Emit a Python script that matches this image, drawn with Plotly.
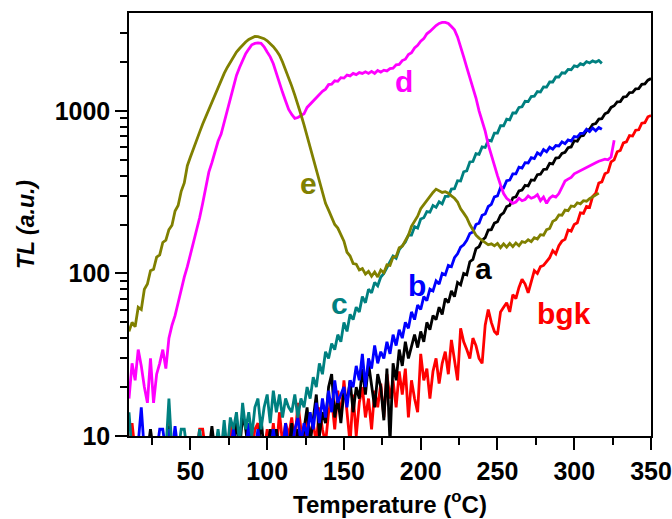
import math
import plotly.graph_objects as go

# ---------------- data (TL intensity, sampled every 2 degC starting at 10 degC) ----------------
T_START = 10
T_STEP = 2

tl_a = [
    8, 8, 8, 8, 8, 8, 8, 11, 8, 8,
    8, 8, 8, 11.5, 8, 8, 8, 8, 8, 8,
    8, 8, 8, 8, 8, 8, 8, 11.5, 8, 8,
    8, 11, 8, 8, 8, 13, 8, 13.5, 11, 8,
    8, 8, 8, 13, 8, 8, 11, 8, 11, 8,
    8, 8, 8, 12, 8, 11, 8, 11, 15, 9,
    13, 18, 10, 14, 12, 20, 24, 13, 17, 12,
    19, 16, 22, 14, 20, 17, 26, 18, 28, 20,
    15, 24, 20, 12.5, 26, 9, 28, 22, 34, 27,
    38, 30, 36, 42, 35, 44, 38, 50, 45, 55,
    52, 62, 56, 70, 66, 78, 72, 88, 85, 100,
    98, 118, 122, 142, 146, 160, 166, 185, 186, 204,
    208, 228, 236, 258, 262, 292, 296, 322, 326, 348,
    345, 376, 374, 405, 408, 436, 438, 476, 472, 512,
    515, 548, 556, 594, 600, 655, 650, 700, 705, 755,
    770, 825, 835, 890, 895, 960, 980, 1050, 1075, 1135,
    1140, 1215, 1225, 1295, 1300, 1365, 1370, 1455, 1465, 1545,
    1580,
]

tl_b = [
    8, 8, 8, 9, 15, 8, 8, 8, 8, 8,
    11, 11, 8, 11, 8, 11.5, 8, 8, 8, 8,
    8, 8, 8, 8, 8, 8, 8, 8, 8, 8,
    8, 8, 8, 8, 11, 8, 8, 8, 8, 12,
    8, 8, 11, 8, 8, 8, 8, 11, 8, 8,
    8, 12, 8, 8, 11, 13, 9, 12, 10, 14,
    11, 16, 12, 17, 13, 19, 14, 22, 16, 18,
    20, 15, 22, 20, 27, 22, 32, 20, 30, 26,
    36, 28, 33, 30, 38, 32, 42, 36, 45, 40,
    50, 46, 58, 52, 64, 60, 72, 68, 80, 78,
    90, 86, 100, 98, 112, 110, 125, 132, 145, 150,
    160, 176, 180, 200, 204, 228, 232, 258, 266, 296,
    300, 338, 336, 372, 375, 410, 410, 450, 444, 480,
    478, 515, 508, 552, 536, 578, 560, 598, 582, 612,
    608, 645, 628, 662, 652, 695, 690, 728, 728, 770,
    745, 785, 755, 790, 770,
]

tl_c = [
    14, 8, 8, 8, 8, 8, 8, 8, 8, 8,
    8, 8, 8, 17, 8, 8, 8, 11, 11, 8,
    8, 8, 8, 11, 8, 8, 8, 8, 8, 11,
    8, 12.5, 8, 13, 11, 14, 9, 16, 11, 14,
    10, 15, 17, 11, 15, 18, 12, 19, 14, 18,
    13, 17, 15, 14, 18, 13, 17, 15, 20, 17,
    23, 20, 28, 24, 33, 30, 37, 34, 42, 38,
    50, 44, 56, 52, 62, 58, 72, 66, 80, 76,
    88, 84, 95, 100, 110, 118, 128, 124, 140, 148,
    156, 172, 172, 194, 190, 216, 220, 240, 238, 262,
    255, 276, 268, 298, 298, 330, 332, 372, 370, 422,
    428, 485, 488, 545, 540, 600, 595, 660, 652, 730,
    730, 810, 810, 890, 880, 970, 970, 1050, 1060, 1145,
    1140, 1225, 1230, 1315, 1305, 1405, 1400, 1505, 1505, 1615,
    1615, 1715, 1705, 1800, 1790, 1890, 1870, 1950, 1920, 2010,
    1970, 2030, 1990, 2040, 1960,
]

tl_d = [
    17, 28, 22, 34, 27, 20, 16, 30, 16, 24,
    28, 34, 26, 40, 48, 55, 66, 80, 95, 110,
    130, 160, 185, 220, 270, 340, 420, 480, 560, 650,
    720, 850, 1000, 1150, 1400, 1650, 1850, 2050, 2250, 2400,
    2550, 2600, 2620, 2600, 2480, 2300, 2150, 1950, 1700, 1450,
    1300, 1150, 1020, 950, 900, 910, 930, 960, 1050, 1100,
    1140, 1210, 1250, 1320, 1360, 1450, 1460, 1530, 1520, 1600,
    1590, 1660, 1640, 1700, 1670, 1720, 1700, 1740, 1700, 1750,
    1700, 1770, 1730, 1780, 1760, 1820, 1830, 1920, 1930, 2040,
    2080, 2220, 2280, 2440, 2530, 2680, 2780, 2980, 3080, 3230,
    3350, 3450, 3500, 3500, 3450, 3300, 3150, 2850, 2500, 2150,
    1850, 1600, 1400, 1200, 1000, 880, 750, 620, 530, 450,
    400, 350, 310, 290, 280, 270, 275, 290, 280, 285,
    300, 290, 295, 305, 280, 295, 270, 290, 300, 295,
    310, 340, 370, 380, 390, 410, 420, 430, 440, 450,
    460, 470, 480, 490, 500, 505, 500, 520, 660,
]

tl_e = [
    44, 50, 47, 62, 60, 80, 86, 104, 106, 126,
    130, 155, 160, 186, 198, 242, 262, 320, 360, 460,
    520, 580, 650, 740, 830, 920, 1020, 1150, 1280, 1420,
    1560, 1700, 1850, 2000, 2150, 2300, 2420, 2550, 2650, 2750,
    2820, 2870, 2860, 2830, 2780, 2700, 2600, 2480, 2350, 2200,
    2000, 1800, 1600, 1420, 1250, 1100, 950, 820, 700, 590,
    490, 420, 360, 310, 270, 245, 220, 200, 190, 175,
    158, 135, 128, 115, 114, 105, 107, 99, 103, 96,
    102, 95, 105, 101, 113, 112, 126, 127, 144, 147,
    160, 172, 195, 210, 225, 250, 265, 285, 300, 315,
    330, 322, 315, 318, 312, 300, 290, 275, 250, 235,
    220, 200, 185, 172, 165, 160, 155, 150, 152, 148,
    153, 144, 152, 145, 153, 146, 154, 148, 157, 155,
    161, 157, 166, 163, 173, 172, 186, 189, 209, 214,
    229, 228, 245, 243, 260, 258, 272, 268, 280, 278,
    288, 295, 305, 312,
]

tl_bgk = [
    8, 12, 8, 8, 8, 8, 8, 8, 8, 8,
    8, 8, 8, 12.5, 8, 8, 8, 8, 8, 8,
    8, 8, 8, 11, 11, 8, 8, 8, 8, 8,
    8, 8, 8, 12, 8, 8, 11, 8, 8, 8,
    8, 11, 12, 8, 8, 11, 8, 12, 8, 14,
    9, 12, 10, 13, 9, 16, 11, 9, 14, 10,
    12, 9, 15, 11, 9, 14, 17, 11, 19, 13,
    22, 14, 9, 18, 10, 16, 20, 13, 17, 11,
    19, 15, 21, 13, 24, 17, 22, 15, 25, 18,
    26, 13, 22, 17, 14, 32, 22, 26, 17, 25,
    30, 21, 28, 33, 24, 39, 30, 22, 46, 38,
    34, 30, 40, 36, 30, 28, 48, 60, 50, 44,
    42, 58, 62, 66, 58, 74, 70, 82, 92, 86,
    76, 88, 104, 100, 110, 112, 118, 125, 138, 132,
    148, 158, 162, 185, 182, 200, 205, 236, 234, 258,
    255, 298, 312, 360, 366, 410, 420, 485, 500, 560,
    570, 635, 645, 705, 700, 760, 765, 840, 845, 920,
    935,
]

series_names = ["bgk", "a", "b", "c", "d", "e"]
series_values = [tl_bgk, tl_a, tl_b, tl_c, tl_d, tl_e]
series_colors = ["#FF0000", "#000000", "#0000FF", "#008080", "#FF00FF", "#808000"]

# curve labels: (text, temperature, TL)
label_text = ["a", "b", "c", "d", "e", "bgk"]
label_temp = [240.8, 197.5, 146.9, 188.8, 126.8, 293.2]
label_tl = [107.4, 84.7, 65.6, 1507, 357, 56.8]
label_color = ["#000000", "#0000FF", "#008080", "#FF00FF", "#808000", "#FF0000"]

x_ticks = [50, 100, 150, 200, 250, 300, 350]
x_minor = [25, 75, 125, 175, 225, 275, 325]
y_ticks = [10, 100, 1000]
y_minor = [20, 30, 40, 50, 60, 70, 80, 90, 200, 300, 400, 500, 600, 700, 800, 900, 2000, 3000]

FONT = "Liberation Sans, Arial, Helvetica, sans-serif"

fig = go.Figure()
for name, ys, col in zip(series_names, series_values, series_colors):
    xs = list(range(T_START, T_START + T_STEP * len(ys), T_STEP))
    fig.add_trace(go.Scatter(x=xs, y=ys, mode="lines", name=name,
                             line=dict(color=col, width=2.8), showlegend=False))

for t, xv, yv, c in zip(label_text, label_temp, label_tl, label_color):
    fig.add_annotation(x=xv, y=math.log10(yv), xref="x", yref="y", text=t, showarrow=False,
                       font=dict(family=FONT, size=30, color=c, weight="bold"),
                       xanchor="center", yanchor="middle")

tickfont = dict(family=FONT, size=25, color="black", weight="bold")

fig.update_layout(
    width=672, height=519,
    margin=dict(l=129, r=21, t=13, b=83, autoexpand=False),
    paper_bgcolor="white", plot_bgcolor="white",
    showlegend=False,
)
fig.update_xaxes(
    automargin=False,
    range=[10, 350], tickmode="array", tickvals=x_ticks,
    ticks="outside", ticklen=12, tickwidth=1.5, tickcolor="black",
    showline=True, linecolor="black", linewidth=1.5, mirror=True,
    showgrid=False, zeroline=False, tickfont=tickfont,
    minor=dict(tickmode="array", tickvals=x_minor, ticks="outside", ticklen=7,
               tickwidth=1.5, tickcolor="black", showgrid=False),
    title=dict(text="Temperature (<sup>o</sup>C)",
               font=dict(family=FONT, size=24, color="black", weight="bold"), standoff=12),
)
fig.update_yaxes(
    automargin=False,
    type="log", range=[1, 3.602], tickmode="array", tickvals=y_ticks,
    ticktext=[str(v) for v in y_ticks],
    ticks="outside", ticklen=12, tickwidth=1.5, tickcolor="black",
    showline=True, linecolor="black", linewidth=1.5, mirror=True,
    showgrid=False, zeroline=False, tickfont=tickfont,
    minor=dict(tickmode="array", tickvals=y_minor, ticks="outside", ticklen=7,
               tickwidth=1.5, tickcolor="black", showgrid=False),
    title=dict(text="TL (a.u.)",
               font=dict(family=FONT, size=23, color="black", weight="bold", style="italic"),
               standoff=14),
)

fig.write_html("out.html")
